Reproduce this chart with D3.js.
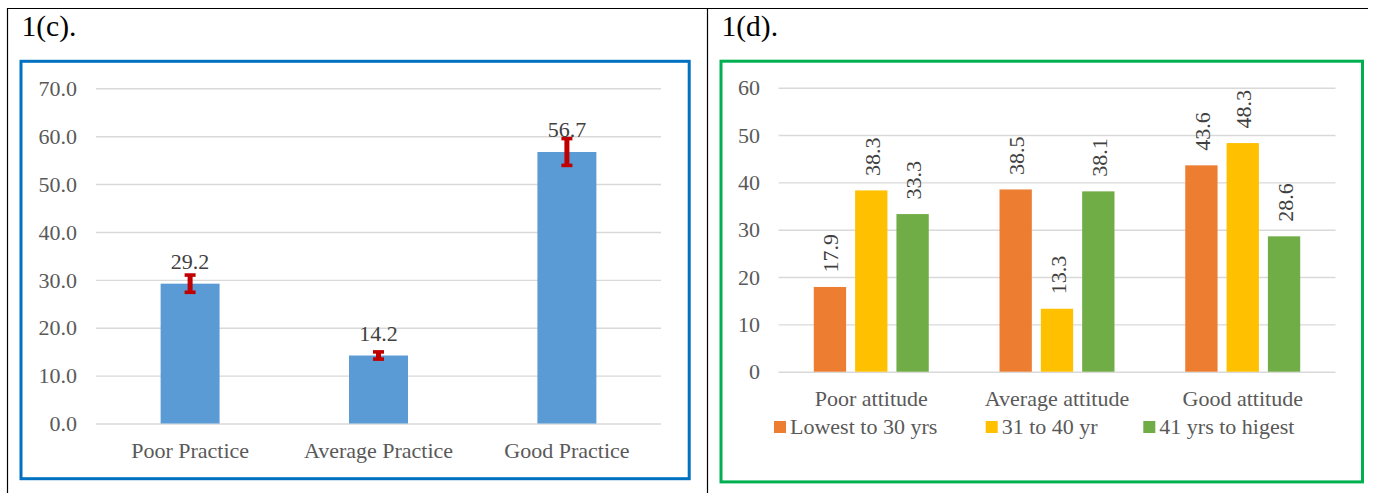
<!DOCTYPE html>
<html>
<head>
<meta charset="utf-8">
<script src="https://cdn.jsdelivr.net/npm/d3@7"></script>
<style>
  html, body { margin: 0; padding: 0; background: #fff; }
  svg { display: block; }
  text { font-family: "Times New Roman", "Liberation Serif", serif; }
</style>
</head>
<body>
<svg id="chart" width="1373" height="493"></svg>
<script>
// ---------- DATA ----------
const practiceCategories = ["Poor Practice", "Average Practice", "Good Practice"];
const practiceValues = [29.2, 14.2, 56.7];
const practiceErrors = [1.8, 0.75, 2.8];
const practiceTicks = [0, 10, 20, 30, 40, 50, 60, 70];

const attitudeCategories = ["Poor attitude", "Average attitude", "Good attitude"];
const ageGroups = ["Lowest to 30 yrs", "31 to 40 yr", "41 yrs to higest"];
const lowestTo30 = [17.9, 38.5, 43.6];
const from31to40 = [38.3, 13.3, 48.3];
const from41 = [33.3, 38.1, 28.6];
const attitudeTicks = [0, 10, 20, 30, 40, 50, 60];

// ---------- STYLE ----------
const TEXT = "#595959";
const GRID = "#D9D9D9";
const FONT = 22;
const ageColors = ["#ED7D31", "#FFC000", "#70AD47"];

const svg = d3.select("#chart");

// Table borders
svg.append("line").attr("x1", 7).attr("x2", 1368).attr("y1", 8.5).attr("y2", 8.5).attr("stroke", "#000").attr("stroke-width", 1.2);
svg.append("line").attr("x1", 7.5).attr("x2", 7.5).attr("y1", 8).attr("y2", 493).attr("stroke", "#000").attr("stroke-width", 1.2);
svg.append("line").attr("x1", 707.5).attr("x2", 707.5).attr("y1", 8).attr("y2", 493).attr("stroke", "#000").attr("stroke-width", 1.2);

// Titles
svg.append("text").attr("x", 21.5).attr("y", 36).attr("font-size", 29.5).attr("fill", "#000").text("1(c).");
svg.append("text").attr("x", 721.5).attr("y", 36).attr("font-size", 29.5).attr("fill", "#000").text("1(d).");

// Boxes
svg.append("rect").attr("x", 21).attr("y", 61.3).attr("width", 668.2).attr("height", 417.4)
  .attr("fill", "none").attr("stroke", "#0070C0").attr("stroke-width", 3);
svg.append("rect").attr("x", 721).attr("y", 61.2).attr("width", 641.5).attr("height", 420.7)
  .attr("fill", "none").attr("stroke", "#00B050").attr("stroke-width", 3);

// ---------- CHART 1(c) ----------
{
  const g = svg.append("g");
  const x = d3.scaleBand().domain(practiceCategories).range([96, 661]).paddingInner(0.687).paddingOuter(0.343);
  const y = d3.scaleLinear().domain([0, 70]).range([423.5, 88.3]);

  const yAxis = d3.axisLeft(y).tickValues(practiceTicks).tickFormat(d3.format(".1f"))
    .tickSize(-(661 - 96)).tickPadding(19);
  const ya = g.append("g").attr("transform", "translate(96,0)").call(yAxis);
  ya.select(".domain").remove();
  ya.selectAll(".tick line").attr("stroke", GRID).attr("stroke-width", 1.4);
  ya.selectAll(".tick text").attr("fill", TEXT).attr("font-size", FONT)
    .attr("font-family", "'Times New Roman', 'Liberation Serif', serif").attr("dy", "0.33em");

  const xAxis = d3.axisBottom(x).tickSize(0).tickPadding(0);
  const xa = g.append("g").attr("transform", "translate(0,423.5)").call(xAxis);
  xa.select(".domain").remove();
  xa.selectAll(".tick text").attr("fill", TEXT).attr("font-size", FONT)
    .attr("font-family", "'Times New Roman', 'Liberation Serif', serif").attr("dy", 0).attr("y", 34.5);

  const data = practiceCategories.map((c, i) => ({ c, v: practiceValues[i], e: practiceErrors[i] }));

  g.selectAll(".bar").data(data).join("rect")
    .attr("x", d => x(d.c)).attr("width", x.bandwidth())
    .attr("y", d => y(d.v)).attr("height", d => y(0) - y(d.v))
    .attr("fill", "#5B9BD5");

  const err = g.selectAll(".err").data(data).join("g").attr("class", "err");
  const cx = d => x(d.c) + x.bandwidth() / 2;
  err.append("line").attr("x1", cx).attr("x2", cx)
    .attr("y1", d => y(d.v + d.e)).attr("y2", d => y(d.v - d.e))
    .attr("stroke", "#C00000").attr("stroke-width", 5);
  err.append("line").attr("x1", d => cx(d) - 5.5).attr("x2", d => cx(d) + 5.5)
    .attr("y1", d => y(d.v + d.e)).attr("y2", d => y(d.v + d.e))
    .attr("stroke", "#C00000").attr("stroke-width", 3.6);
  err.append("line").attr("x1", d => cx(d) - 5.5).attr("x2", d => cx(d) + 5.5)
    .attr("y1", d => y(d.v - d.e)).attr("y2", d => y(d.v - d.e))
    .attr("stroke", "#C00000").attr("stroke-width", 3.6);

  g.selectAll(".lbl").data(data).join("text")
    .attr("x", cx).attr("y", d => y(d.v) - 15)
    .attr("text-anchor", "middle").attr("font-size", FONT).attr("fill", "#404040")
    .text(d => d.v.toFixed(1));
}

// ---------- CHART 1(d) ----------
{
  const g = svg.append("g");
  const x0 = d3.scaleBand().domain(attitudeCategories).range([778.5, 1335.5]).paddingInner(0.381).paddingOuter(0.19);
  const x1 = d3.scaleBand().domain(ageGroups).range([0, x0.bandwidth()]).paddingInner(0.218);
  const y = d3.scaleLinear().domain([0, 60]).range([371.7, 87.7]);

  const yAxis = d3.axisLeft(y).tickValues(attitudeTicks).tickFormat(d3.format("d"))
    .tickSize(-(1335.5 - 778.5)).tickPadding(18.5);
  const ya = g.append("g").attr("transform", "translate(778.5,0)").call(yAxis);
  ya.select(".domain").remove();
  ya.selectAll(".tick line").attr("stroke", GRID).attr("stroke-width", 1.4);
  ya.selectAll(".tick text").attr("fill", TEXT).attr("font-size", FONT)
    .attr("font-family", "'Times New Roman', 'Liberation Serif', serif").attr("dy", "0.33em");

  const xAxis = d3.axisBottom(x0).tickSize(0).tickPadding(0);
  const xa = g.append("g").attr("transform", "translate(0,371.7)").call(xAxis);
  xa.select(".domain").remove();
  xa.selectAll(".tick text").attr("fill", TEXT).attr("font-size", FONT)
    .attr("font-family", "'Times New Roman', 'Liberation Serif', serif").attr("dy", 0).attr("y", 34.3);

  const seriesValues = [lowestTo30, from31to40, from41];
  const data = [];
  attitudeCategories.forEach((c, i) => {
    ageGroups.forEach((s, j) => data.push({ c, s, j, v: seriesValues[j][i] }));
  });

  g.selectAll(".bar").data(data).join("rect")
    .attr("x", d => x0(d.c) + x1(d.s)).attr("width", x1.bandwidth())
    .attr("y", d => y(d.v)).attr("height", d => y(0) - y(d.v))
    .attr("fill", d => ageColors[d.j]);

  g.selectAll(".lbl").data(data).join("text")
    .attr("transform", d => `translate(${x0(d.c) + x1(d.s) + x1.bandwidth() / 2 + 8.5},${y(d.v) - 14.5}) rotate(-90)`)
    .attr("text-anchor", "start").attr("font-size", FONT).attr("fill", "#404040")
    .text(d => d.v.toFixed(1));

  // Legend
  const legendX = [774, 985.7, 1143.3];
  const lg = g.selectAll(".leg").data(ageGroups).join("g")
    .attr("transform", (d, i) => `translate(${legendX[i]},421)`);
  lg.append("rect").attr("width", 12).attr("height", 12).attr("fill", (d, i) => ageColors[i]);
  lg.append("text").attr("x", 16).attr("y", 13).attr("font-size", FONT).attr("fill", TEXT).text(d => d);
}
</script>
</body>
</html>
